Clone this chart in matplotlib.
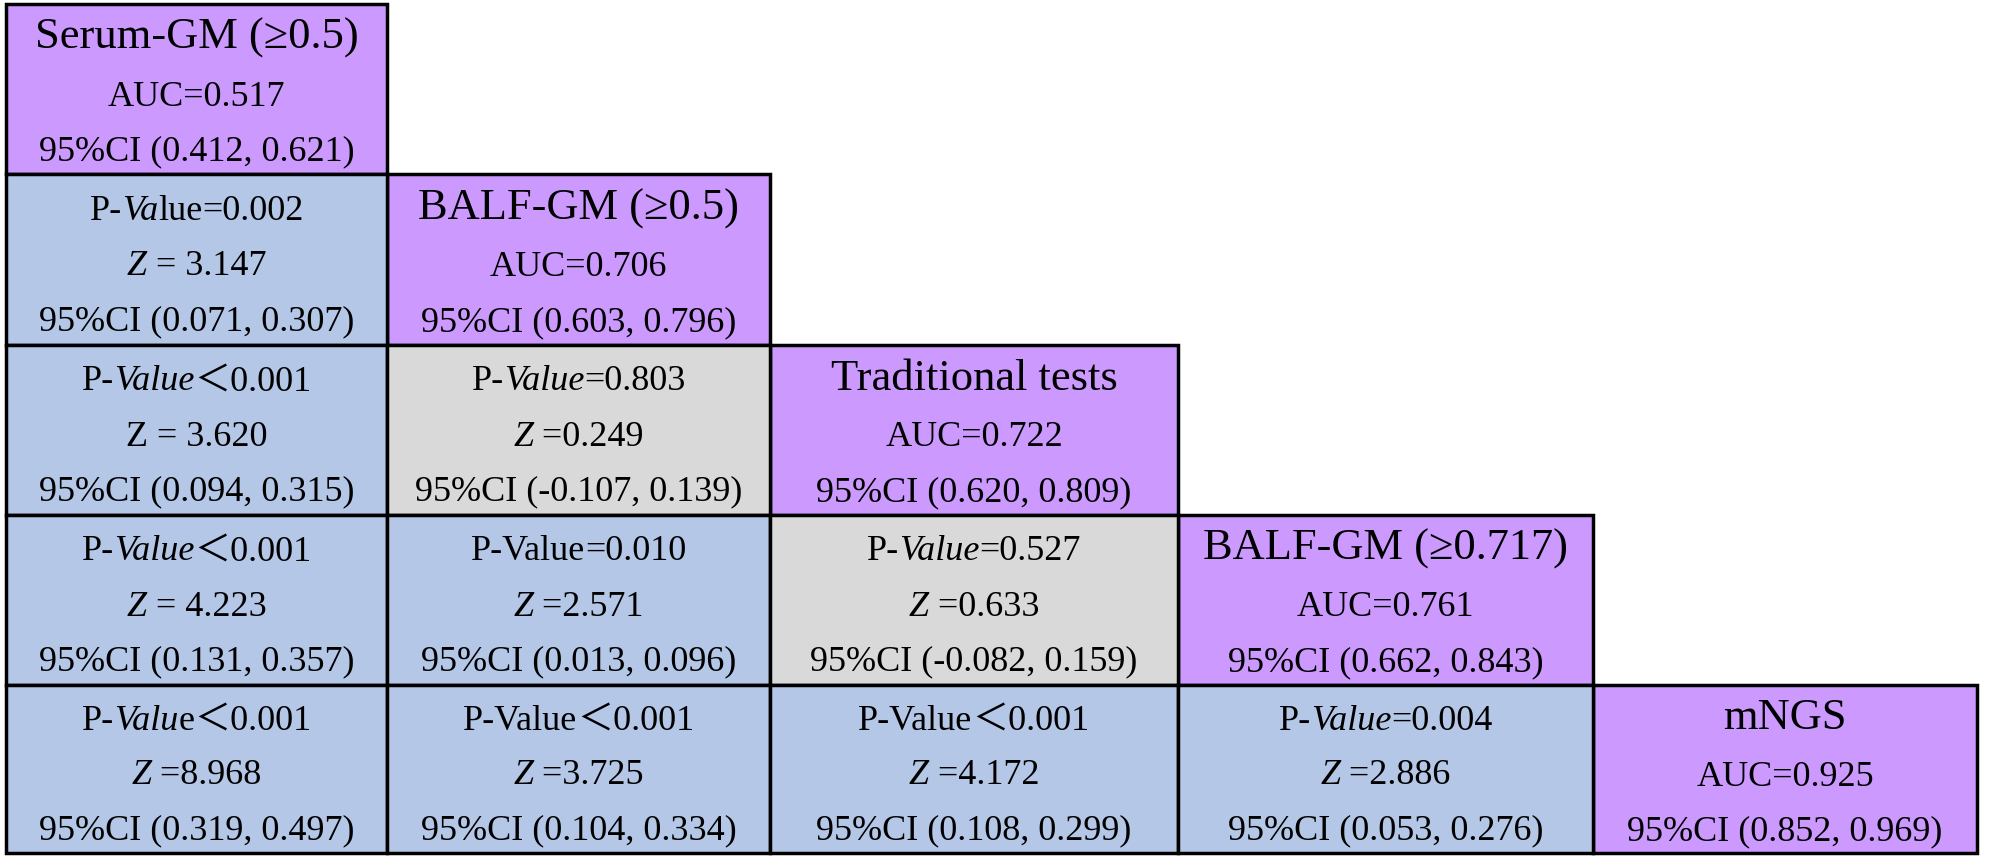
import matplotlib
matplotlib.use('Agg')
import matplotlib.pyplot as plt
from matplotlib.patches import Rectangle
from matplotlib.offsetbox import TextArea, HPacker, AnnotationBbox

names = ['Serum-GM (≥0.5)', 'BALF-GM (≥0.5)', 'Traditional tests',
         'BALF-GM (≥0.717)', 'mNGS']
auc = [0.517, 0.706, 0.722, 0.761, 0.925]
auc_lo = [0.412, 0.603, 0.620, 0.662, 0.852]
auc_hi = [0.621, 0.796, 0.809, 0.843, 0.969]

# pairwise comparisons (row, col) -> lower triangle
pair_cells = [(1, 0), (2, 0), (2, 1), (3, 0), (3, 1), (3, 2),
              (4, 0), (4, 1), (4, 2), (4, 3)]
p_label = ['P-*Va*lue', 'P-*Value*', 'P-*Value*', 'P-*Value*', 'P-Value',
           'P-*Value*', 'P-*Valu*e', 'P-Value', 'P-Value', 'P-*Value*']
p_text = ['=0.002', '＜0.001', '=0.803', '＜0.001', '=0.010',
          '=0.527', '＜0.001', '＜0.001', '＜0.001', '=0.004']
p_vals = [0.002, 0.001, 0.803, 0.001, 0.010, 0.527, 0.001, 0.001, 0.001, 0.004]
z_label = ['*Z*', 'Z', '*Z*', '*Z*', '*Z*', '*Z*', '*Z*', '*Z*', '*Z*', '*Z*']
z_text = [' = 3.147', ' = 3.620', ' =0.249', ' = 4.223', ' =2.571',
          ' =0.633', ' =8.968', ' =3.725', ' =4.172', ' =2.886']
d_lo = [0.071, 0.094, -0.107, 0.131, 0.013, -0.082, 0.319, 0.104, 0.108, 0.053]
d_hi = [0.307, 0.315, 0.139, 0.357, 0.096, 0.159, 0.497, 0.334, 0.299, 0.276]

# ---- layout (pixels) ----
col_edges = [6, 387, 770, 1178, 1593, 1977]
row_edges = [4, 174, 345, 515, 685, 853]
c_diag = '#CC99FF'
c_sig = '#B4C7E7'
c_ns = '#D9D9D9'
fam = ['Liberation Serif', 'Noto Sans CJK SC']
body_fs = 26
head_fs = 32
line_gap = 55


def parse(s):
    # split "P-*Va*lue" into (text, italic) pieces
    out = []
    parts = s.split('*')
    for i, p in enumerate(parts):
        if p:
            out.append((p, i % 2 == 1))
    return out


def put_line(ax, x, y, pieces, fs):
    kids = []
    for txt, it in pieces:
        kids.append(TextArea(txt, textprops=dict(family=fam, fontsize=fs,
                                                 fontstyle='italic' if it else 'normal',
                                                 color='black')))
    box = HPacker(children=kids, align='baseline', pad=0, sep=0)
    ab = AnnotationBbox(box, (x, y), xycoords='data', frameon=False,
                        box_alignment=(0.5, 0.5), pad=0)
    ax.add_artist(ab)


def cell(ax, r, c, color, lines, offs):
    x0, x1 = col_edges[c], col_edges[c + 1]
    y0, y1 = row_edges[r], row_edges[r + 1]
    ax.add_patch(Rectangle((x0, y0), x1 - x0, y1 - y0, facecolor=color,
                           edgecolor='black', linewidth=2.5, zorder=1))
    cx = (x0 + x1) / 2
    cy = (y0 + y1) / 2 + 7
    for k, (pieces, fs) in enumerate(lines):
        put_line(ax, cx, cy + (k - 1) * line_gap + offs[k], pieces, fs)


fig = plt.figure(figsize=(19.9, 8.61), dpi=100)
ax = fig.add_axes([0, 0, 1, 1])
ax.set_xlim(0, 1990)
ax.set_ylim(861, 0)
ax.axis('off')

for i in range(len(names)):
    cell(ax, i, i, c_diag, [
        ([(names[i], False)], head_fs),
        ([('AUC=%.3f' % auc[i], False)], body_fs),
        ([('95%%CI (%.3f, %.3f)' % (auc_lo[i], auc_hi[i]), False)], body_fs),
    ], (-3, 1, 1))

for j, (r, c) in enumerate(pair_cells):
    color = c_sig if p_vals[j] < 0.05 else c_ns
    cell(ax, r, c, color, [
        (parse(p_label[j]) + [(p_text[j], False)], body_fs),
        (parse(z_label[j]) + [(z_text[j], False)], body_fs),
        ([('95%%CI (%.3f, %.3f)' % (d_lo[j], d_hi[j]), False)], body_fs),
    ], (0, 0, 0))

fig.savefig('out.png', dpi=100, facecolor='white')
